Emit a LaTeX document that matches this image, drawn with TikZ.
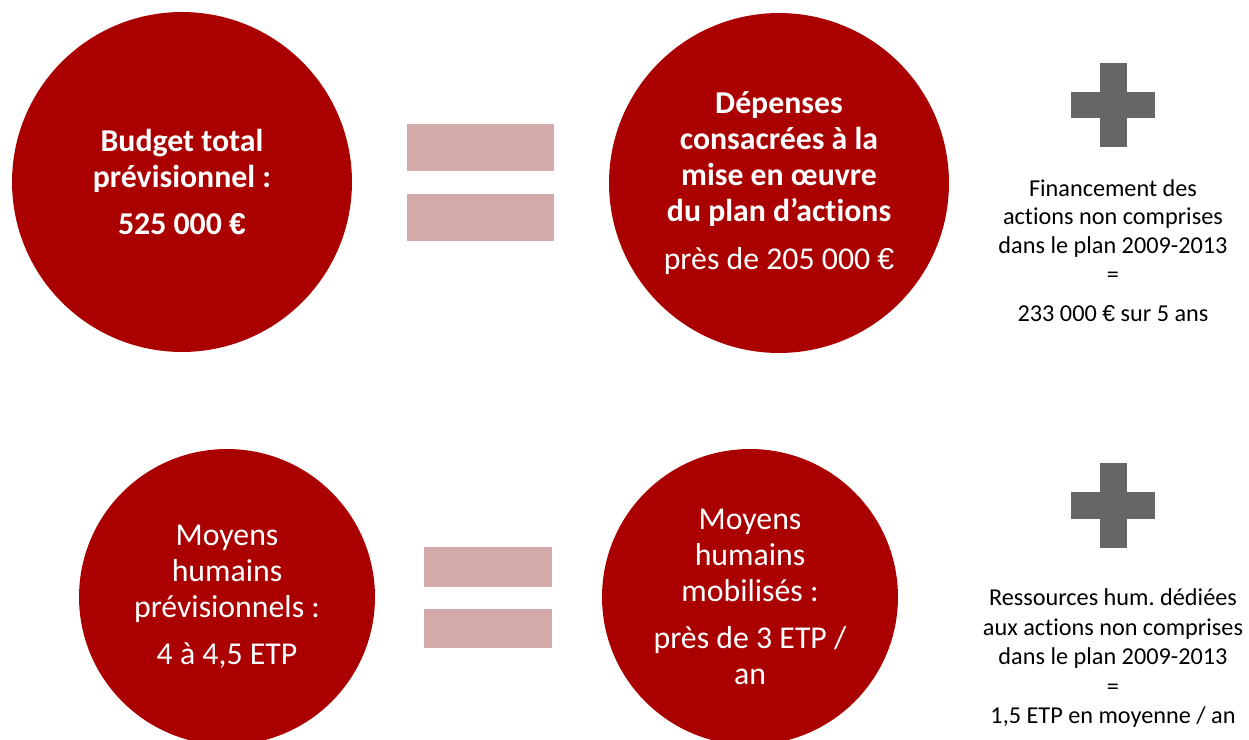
\documentclass[tikz,border=0pt]{standalone}
\usepackage{fontspec}
\setmainfont{Carlito}[Ligatures=NoCommon]
\newfontfamily\euroface{Liberation Sans}
\newcommand{\eur}{{\euroface\scalebox{0.95}{€}}}
\frenchspacing
\usetikzlibrary{positioning}
\definecolor{budgetred}{RGB}{170,0,0}
\definecolor{barpink}{RGB}{211,170,170}
\definecolor{plusgray}{RGB}{102,102,102}
\tikzset{bigdot/.style={
            circle,
            fill=budgetred,
            text=white,
            inner sep=0pt,
            align=center,
            font=\fontsize{18.1}{20.4}\selectfont
        },
        bar/.style={
            fill=barpink,
            inner sep=0pt,
            minimum width=2.94cm,
            minimum height=0.94cm
        },
        smallbar/.style={
            bar,
            minimum width=2.56cm,
            minimum height=0.8cm
        },
        armv/.style={
            fill=plusgray,
            inner sep=0pt,
            minimum width=0.54cm,
            minimum height=1.7cm
        },
        armh/.style={
            fill=plusgray,
            inner sep=0pt,
            minimum width=1.68cm,
            minimum height=0.54cm
        },
        note/.style={
            align=center,
            inner sep=0pt,
            font=\fontsize{13.8}{16.4}\selectfont
        }
    }

\begin{document}
\begin{tikzpicture}
        [x=0.02cm,y=-0.02cm]

        \useasboundingbox (0,0) rectangle (1249,740);

        % budget row
        \node[bigdot,minimum size=6.8cm,font=\fontsize{18.1}{20.4}\selectfont\bfseries] (budget) at (182,182)
            {Budget total\\prévisionnel :\\[6.8pt]525 000 \eur};
        \node[bar] (eqtopa) at (480.5,147.5) {};
        \node[bar] (eqtopb) at (480.5,217.5) {};
        \node[bigdot,minimum size=6.8cm] (depenses) at (779,183)
            {\textbf{Dépenses}\\\textbf{consacrées à la}\\\textbf{mise en œuvre}\\\textbf{du plan d’actions}\\[6.8pt]près de 205 000 \eur};
        \node[armv] (plustopv) at (1113,105) {};
        \node[armh] (plustoph) at (1113,105) {};
        \node[note,below=0.62cm of plustopv] (financement)
            {Financement des\\actions non comprises\\dans le plan 2009-2013\\=\\[5.7pt]233 000 \eur{} sur 5 ans};

        % human resources row
        \node[bigdot,minimum size=5.92cm] (moyensprev) at (227,597)
            {Moyens\\humains\\prévisionnels :\\[6.8pt]4 à 4,5 ETP};
        \node[smallbar] (eqbota) at (488,567) {};
        \node[smallbar] (eqbotb) at (488,628.5) {};
        \node[bigdot,minimum size=5.92cm] (moyensmob) at (750,597)
            {Moyens\\humains\\mobilisés :\\[6.8pt]près de 3 ETP /\\an};
        \node[armv] (plusbotv) at (1113,505.5) {};
        \node[armh] (plusboth) at (1113,505.5) {};
        \node[note,below=0.8cm of plusbotv,font=\fontsize{13.8}{16.8}\selectfont] (ressources)
            {Ressources hum. dédiées\\aux actions non comprises\\dans le plan 2009-2013\\=\\1,5 ETP en moyenne / an};

    \end{tikzpicture}
\end{document}
